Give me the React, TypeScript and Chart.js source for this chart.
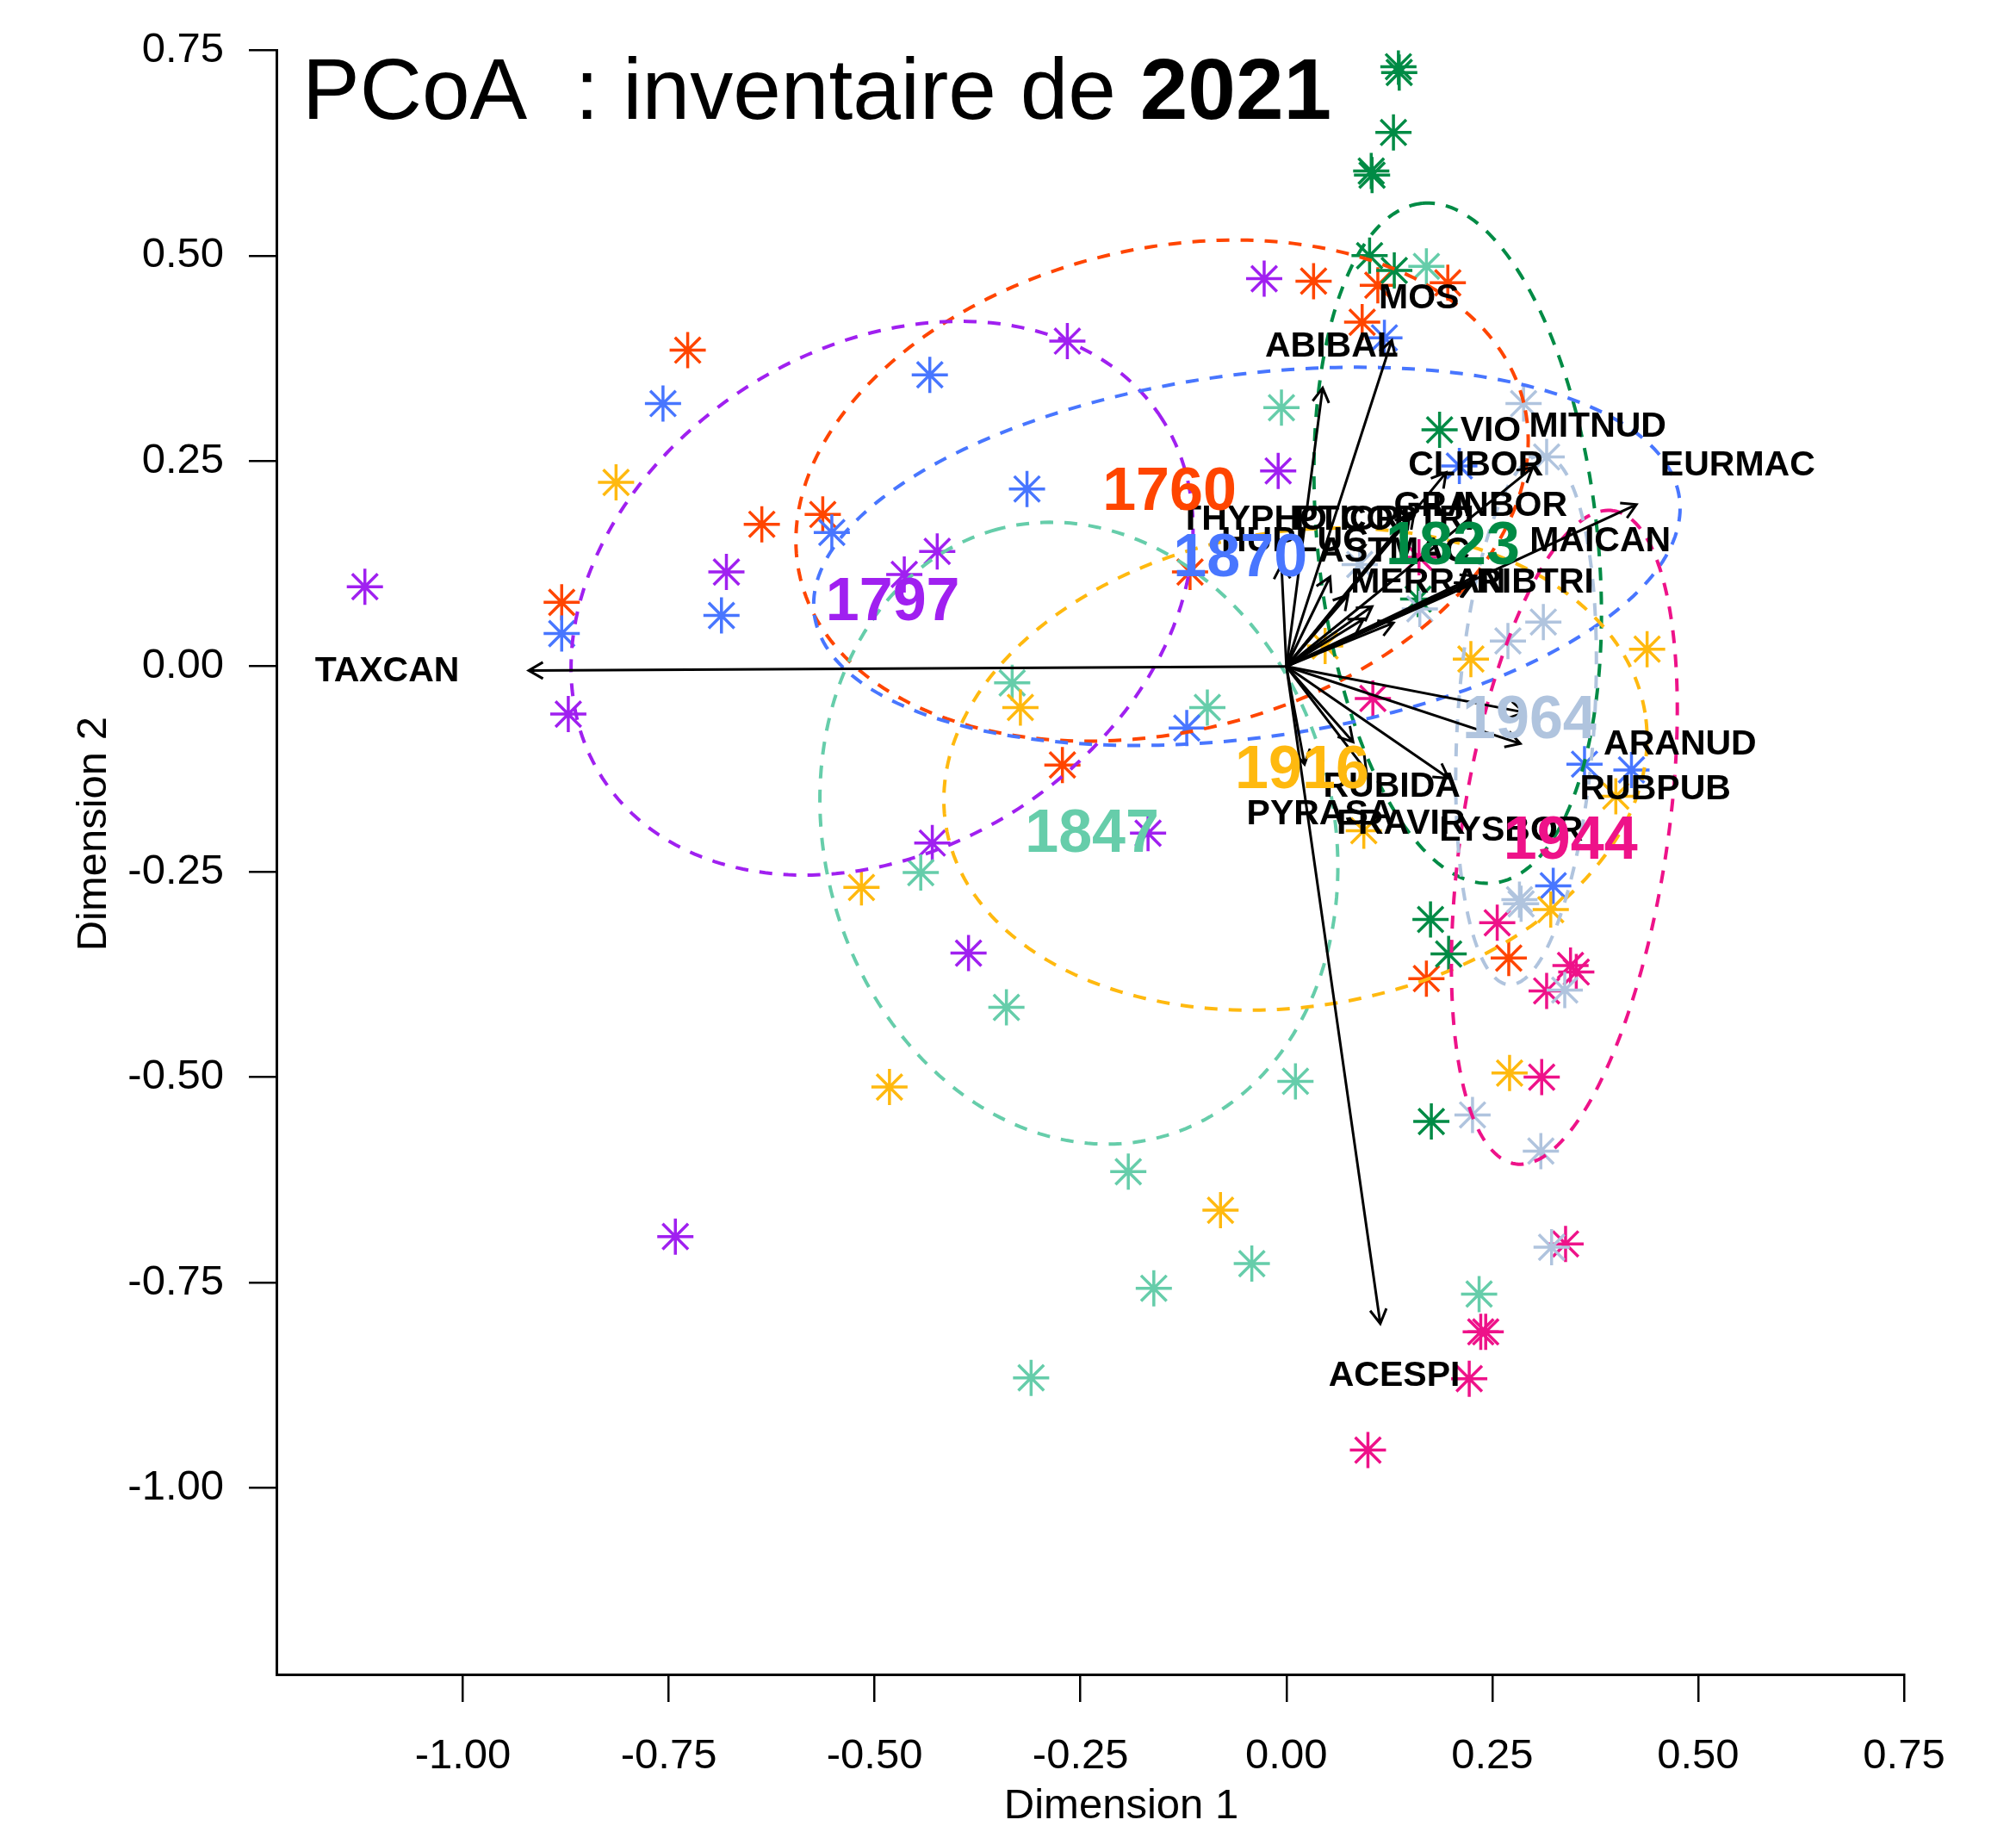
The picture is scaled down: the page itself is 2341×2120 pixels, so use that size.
import React, { useEffect, useRef } from "react";
import { Chart, registerables } from "chart.js";
Chart.register(...registerables);

// ---------- data ----------
const groups = ["1760", "1797", "1823", "1847", "1870", "1916", "1944", "1964"];
const groupColors = ["#FF4500", "#A020F0", "#008B45", "#66CDAA", "#4876FF", "#FFB90F", "#EE1289", "#B0C4DE"];

const x1760 = [-0.727, -0.637, -0.563, -0.88, -0.272, -0.117, 0.033, 0.092, 0.111, 0.196, 0.17, 0.27];
const y1760 = [0.385, 0.173, 0.185, 0.078, -0.12, 0.115, 0.469, 0.419, 0.464, 0.467, -0.38, -0.355];
const x1797 = [-1.119, -0.872, -0.68, -0.464, -0.424, -0.266, -0.027, -0.01, -0.43, -0.168, -0.386, -0.742];
const y1797 = [0.097, -0.058, 0.115, 0.112, 0.14, 0.396, 0.472, 0.238, -0.215, -0.203, -0.349, -0.694];
const x1823 = [0.136, 0.137, 0.13, 0.103, 0.104, 0.101, 0.131, 0.186, 0.16, 0.175, 0.197, 0.176];
const y1823 = [0.73, 0.723, 0.65, 0.603, 0.598, 0.5, 0.482, 0.288, 0.082, -0.308, -0.35, -0.554];
const x1847 = [-0.006, 0.17, -0.333, -0.096, -0.444, -0.34, 0.011, -0.192, -0.042, -0.161, -0.31, 0.234];
const y1847 = [0.315, 0.487, -0.02, -0.05, -0.251, -0.415, -0.505, -0.615, -0.727, -0.757, -0.866, -0.764];
const x1870 = [-0.757, -0.88, -0.686, -0.552, -0.433, -0.315, -0.121, 0.119, 0.21, 0.362, 0.419, 0.324];
const y1870 = [0.32, 0.04, 0.062, 0.163, 0.355, 0.216, -0.075, 0.4, 0.244, -0.119, -0.126, -0.267];
const x1916 = [-0.814, -0.323, -0.516, -0.482, -0.08, 0.047, 0.224, 0.438, 0.4, 0.321, 0.271, 0.094];
const y1916 = [0.224, -0.05, -0.269, -0.512, -0.662, 0.025, 0.009, 0.021, -0.158, -0.296, -0.495, -0.2];
const x1944 = [0.105, 0.256, 0.345, 0.352, 0.316, 0.31, 0.339, 0.236, 0.242, 0.222, 0.099, 0.161];
const y1944 = [-0.039, -0.312, -0.364, -0.372, -0.395, -0.5, -0.703, -0.81, -0.81, -0.867, -0.954, 0.133];
const x1964 = [0.288, 0.316, 0.089, 0.162, 0.269, 0.312, 0.283, 0.285, 0.338, 0.226, 0.309, 0.322];
const y1964 = [0.32, 0.255, 0.124, 0.07, 0.031, 0.054, -0.284, -0.289, -0.394, -0.546, -0.59, -0.707];

// group label positions (centroids)
const groupLabelX = [-0.142, -0.478, 0.202, -0.236, -0.056, 0.019, 0.345, 0.295];
const groupLabelY = [0.211, 0.077, 0.145, -0.206, 0.13, -0.128, -0.214, -0.067];

// dispersion ellipses: centre, semi-axes, rotation (degrees)
const ellCX = [-0.151, -0.491, 0.208, -0.252, -0.048, 0.011, 0.3375, 0.291];
const ellCY = [0.214, 0.083, 0.15, -0.203, 0.134, -0.125, -0.208, -0.065];
const ellA = [0.452, 0.404, 0.416, 0.383, 0.53, 0.43, 0.402, 0.323];
const ellB = [0.294, 0.305, 0.17, 0.309, 0.221, 0.289, 0.125, 0.083];
const ellAngle = [13.7, 32.8, 96, 105, 7.7, 9.2, 81.5, 86.3];

// species vectors (arrow tips) and label positions
const speciesNames = ["TAXCAN", "ACESPI", "ABIBAL", "MOS", "VIO", "MITNUD", "CLIBOR", "EURMAC", "GRA", "LINBOR", "MAICAN", "RIBTRI", "MERRAN", "THYPHO", "HUPLUC", "PTICRI", "COPTRI", "ASTMAC", "ARANUD", "RUBPUB", "LYSBOR", "RUBIDA", "PYRASA", "FRAVIR"];
const speciesX = [-0.92, 0.114, 0.044, 0.128, 0.194, 0.299, 0.155, 0.425, 0.15, 0.225, 0.23, 0.223, 0.13, 0.053, -0.006, 0.075, 0.094, 0.104, 0.289, 0.284, 0.197, 0.097, 0.022, 0.081];
const speciesY = [-0.005, -0.8, 0.339, 0.397, 0.236, 0.242, 0.186, 0.197, 0.185, 0.1, 0.11, 0.1, 0.053, 0.109, 0.124, 0.087, 0.058, 0.073, -0.056, -0.094, -0.136, -0.127, -0.119, -0.092];
const labelX = [-1.092, 0.131, 0.055, 0.161, 0.248, 0.378, 0.23, 0.548, 0.178, 0.259, 0.381, 0.302, 0.172, -0.04, 0.01, 0.08, 0.147, 0.131, 0.478, 0.448, 0.273, 0.128, 0.041, 0.139];
const labelY = [-0.006, -0.864, 0.389, 0.448, 0.286, 0.291, 0.244, 0.244, 0.195, 0.195, 0.152, 0.102, 0.102, 0.178, 0.152, 0.178, 0.178, 0.139, -0.095, -0.15, -0.2, -0.147, -0.18, -0.192];

// axes
const xTicks = [-1, -0.75, -0.5, -0.25, 0, 0.25, 0.5, 0.75];
const xTickLabels = ["-1.00", "-0.75", "-0.50", "-0.25", "0.00", "0.25", "0.50", "0.75"];
const yTicks = [-1, -0.75, -0.5, -0.25, 0, 0.25, 0.5, 0.75];
const yTickLabels = ["-1.00", "-0.75", "-0.50", "-0.25", "0.00", "0.25", "0.50", "0.75"];
const xTitle = "Dimension 1";
const yTitle = "Dimension 2";
const titleMain = "PCoA  : inventaire de ";
const titleYear = "2021";

const groupX = [x1760, x1797, x1823, x1847, x1870, x1916, x1944, x1964];
const groupY = [y1760, y1797, y1823, y1847, y1870, y1916, y1944, y1964];

const FONT = '"Liberation Sans", Arial, Helvetica, sans-serif';

const overlay = {
  id: "overlay",
  afterDatasetsDraw(chart: any) {
    const { ctx, scales } = chart;
    const xs = scales.x;
    const ys = scales.y;
    const X = (v: number) => xs.getPixelForValue(v);
    const Y = (v: number) => ys.getPixelForValue(v);
    ctx.save();

    // ellipses
    ctx.lineWidth = 4;
    ctx.setLineDash([15, 13]);
    for (let g = 0; g < groups.length; g++) {
      const th = (ellAngle[g] * Math.PI) / 180;
      const c = Math.cos(th), s = Math.sin(th);
      ctx.strokeStyle = groupColors[g];
      ctx.beginPath();
      const n = 240;
      for (let k = 0; k <= n; k++) {
        const t = (k / n) * Math.PI * 2;
        const ex = ellA[g] * Math.cos(t);
        const ey = ellB[g] * Math.sin(t);
        const px = X(ellCX[g] + ex * c - ey * s);
        const py = Y(ellCY[g] + ex * s + ey * c);
        if (k === 0) ctx.moveTo(px, py);
        else ctx.lineTo(px, py);
      }
      ctx.stroke();
    }
    ctx.setLineDash([]);

    // arrows
    ctx.strokeStyle = "#000";
    ctx.lineWidth = 3;
    const x0 = X(0), y0 = Y(0);
    for (let i = 0; i < speciesNames.length; i++) {
      const x1 = X(speciesX[i]);
      const y1 = Y(speciesY[i]);
      const ang = Math.atan2(y1 - y0, x1 - x0);
      const L = 19, phi = Math.PI / 6;
      ctx.beginPath();
      ctx.moveTo(x0, y0);
      ctx.lineTo(x1, y1);
      ctx.moveTo(x1 - L * Math.cos(ang - phi), y1 - L * Math.sin(ang - phi));
      ctx.lineTo(x1, y1);
      ctx.lineTo(x1 - L * Math.cos(ang + phi), y1 - L * Math.sin(ang + phi));
      ctx.stroke();
    }

    // species labels
    ctx.fillStyle = "#000";
    ctx.font = `bold 41px ${FONT}`;
    ctx.textAlign = "center";
    ctx.textBaseline = "middle";
    for (let i = 0; i < speciesNames.length; i++) {
      ctx.fillText(speciesNames[i], X(labelX[i]), Y(labelY[i]));
    }

    // group labels
    ctx.font = `bold 70px ${FONT}`;
    for (let g = 0; g < groups.length; g++) {
      ctx.fillStyle = groupColors[g];
      ctx.fillText(groups[g], X(groupLabelX[g]), Y(groupLabelY[g]));
    }

    // title
    const ca = chart.chartArea;
    ctx.fillStyle = "#000";
    ctx.textAlign = "left";
    ctx.textBaseline = "alphabetic";
    ctx.font = `100px ${FONT}`;
    const tx = ca.left + 30;
    const ty = ca.top + 80;
    ctx.fillText(titleMain, tx, ty);
    const w = ctx.measureText(titleMain).width;
    ctx.font = `bold 100px ${FONT}`;
    ctx.fillText(titleYear, tx + w, ty);

    // axis titles
    ctx.font = `49px ${FONT}`;
    ctx.textAlign = "center";
    ctx.textBaseline = "middle";
    ctx.fillText(xTitle, (ca.left + ca.right) / 2 + 36, ca.bottom + 153);
    ctx.save();
    ctx.translate(109, (ca.top + ca.bottom) / 2 - 33);
    ctx.rotate(-Math.PI / 2);
    ctx.fillText(yTitle, 0, 0);
    ctx.restore();

    ctx.restore();
  },
};

export default function App() {
  const ref = useRef<HTMLCanvasElement>(null);
  useEffect(() => {
    if (!ref.current) return;
    const datasets = groups.map((g, i) => ({
      label: g,
      data: groupX[i].map((v, k) => ({ x: v, y: groupY[i][k] })),
      pointStyle: "star",
      pointRadius: 21,
      pointHoverRadius: 21,
      borderColor: groupColors[i],
      backgroundColor: groupColors[i],
      borderWidth: 3.5,
      showLine: false,
      order: groups.length - i,
    }));
    const chart = new Chart(ref.current, {
      type: "scatter",
      data: { datasets },
      options: {
        animation: false,
        responsive: false,
        devicePixelRatio: 1,
        layout: { padding: { top: 55, right: 130, left: 0, bottom: 0 } },
        plugins: { legend: { display: false }, tooltip: { enabled: false }, title: { display: false } },
        scales: {
          x: {
            type: "linear",
            min: -1.2264,
            max: 0.75,
            afterBuildTicks: (s: any) => {
              s.ticks = xTicks.map((v) => ({ value: v }));
            },
            afterFit: (s: any) => {
              s.height = 176;
            },
            ticks: {
              autoSkip: false,
              maxRotation: 0,
              padding: 34,
              color: "#000",
              font: { family: FONT, size: 49 },
              callback: (_v: any, i: number) => xTickLabels[i],
            },
            grid: { display: true, drawOnChartArea: false, drawTicks: true, tickLength: 32, color: "#000", lineWidth: 2.5 },
            border: { display: true, color: "#000", width: 3 },
          },
          y: {
            type: "linear",
            min: -1.227,
            max: 0.75,
            afterBuildTicks: (s: any) => {
              s.ticks = yTicks.map((v) => ({ value: v }));
            },
            afterFit: (s: any) => {
              s.width = 321;
            },
            ticks: {
              autoSkip: false,
              padding: 29,
              color: "#000",
              font: { family: FONT, size: 49 },
              callback: (_v: any, i: number) => yTickLabels[i],
            },
            grid: { display: true, drawOnChartArea: false, drawTicks: true, tickLength: 32, color: "#000", lineWidth: 2.5 },
            border: { display: true, color: "#000", width: 3 },
          },
        },
      },
      plugins: [overlay],
    } as any);
    return () => chart.destroy();
  }, []);
  return (
    <div style={{ position: "fixed", left: 0, top: 0, width: 2341, height: 2120, background: "#fff" }}>
      <canvas ref={ref} width={2341} height={2120} style={{ display: "block", width: 2341, height: 2120 }} />
    </div>
  );
}
